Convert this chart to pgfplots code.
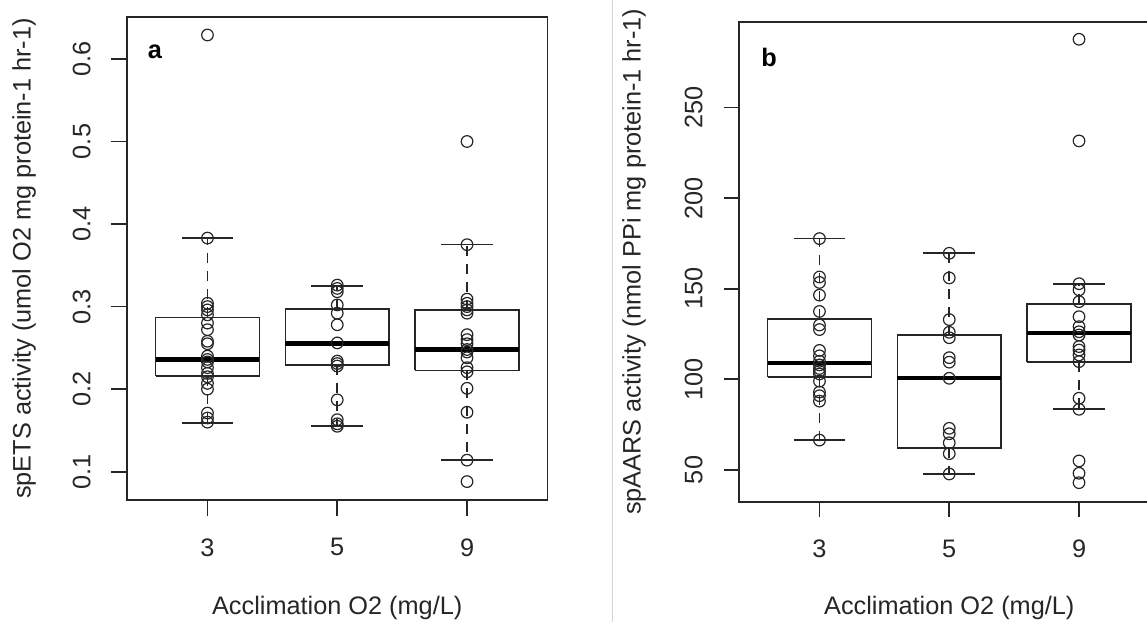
\documentclass[border=0pt]{standalone}
\usepackage{pgfplots}
\pgfplotsset{compat=1.18}
\usepackage{fontspec}
\setmainfont{Liberation Sans}
\newcommand{\lab}{\fontsize{12.65pt}{15pt}\selectfont}
\definecolor{ink}{gray}{0.15}
\pgfplotsset{
  bx/.style={draw=ink, line width=0.8pt, solid, mark=none, line join=miter, forget plot},
  md/.style={draw=black, line width=2.1pt, mark=none, line cap=butt, forget plot},
  wk/.style={draw=ink, line width=0.8pt, dash pattern=on 5pt off 4pt, mark=none, forget plot},
  cp/.style={draw=ink, line width=0.8pt, solid, mark=none, forget plot},
  rpts/.style={only marks, mark=o, mark size=2.9pt,
    mark options={line width=0.6pt, draw=ink}},
  rax/.style={
    scale only axis, width=210.25pt,
    xmin=0.38, xmax=3.62,
    xtick={1,2,3}, xticklabels={3,5,9},
    tick align=outside, xtick pos=lower, ytick pos=left,
    major tick length=7.75pt,
    axis line style={line width=0.9pt, draw=ink},
    every tick/.style={line width=0.9pt, draw=ink},
    tick label style={font=\lab, text=ink},
    label style={font=\lab, text=ink},
    yticklabel style={rotate=90, anchor=south, inner sep=0pt},
    xticklabel style={anchor=north, inner sep=0pt},
    xticklabel shift=11.3pt, yticklabel shift=10.2pt,
    /pgf/number format/assume math mode=true,
    minor tick num=0,
  },
}
\begin{document}
\begin{tikzpicture}
\useasboundingbox (0,0) rectangle (573.5pt,311pt);
\draw[gray!35, line width=0.6pt] (306.25pt,0pt) -- (306.25pt,311pt);
% ---------------- panel a
\begin{axis}[rax, at={(63.5pt,61pt)}, anchor=south west, height=241.5pt,
  ymin=0.0657, ymax=0.6508,
  ytick={0.1,0.2,0.3,0.4,0.5,0.6},
  yticklabel style={/pgf/number format/fixed, /pgf/number format/precision=1, /pgf/number format/fixed zerofill},
  xlabel={Acclimation O2 (mg/L)},
  ylabel={spETS activity (umol O2 mg protein-1 hr-1)},
  xlabel style={at={(axis description cs:0.5,-0.2236)}, anchor=center},
  ylabel style={at={(axis description cs:-0.245,0.5)}, anchor=center, rotate=0},
]
% group 3: lw 0.159, lq 0.216, med 0.236, uq 0.287, uw 0.383
\addplot[bx] coordinates {(0.6,0.216) (1.4,0.216) (1.4,0.287) (0.6,0.287) (0.6,0.216)};
\addplot[md] coordinates {(0.6,0.236) (1.4,0.236)};
\addplot[wk] coordinates {(1,0.287) (1,0.383)};
\addplot[wk] coordinates {(1,0.216) (1,0.159)};
\addplot[cp] coordinates {(0.8,0.383) (1.2,0.383)};
\addplot[cp] coordinates {(0.8,0.159) (1.2,0.159)};
% group 5: lw 0.155, lq 0.2295, med 0.2553, uq 0.297, uw 0.325
\addplot[bx] coordinates {(1.6,0.2295) (2.4,0.2295) (2.4,0.297) (1.6,0.297) (1.6,0.2295)};
\addplot[md] coordinates {(1.6,0.2553) (2.4,0.2553)};
\addplot[wk] coordinates {(2,0.297) (2,0.325)};
\addplot[wk] coordinates {(2,0.2295) (2,0.155)};
\addplot[cp] coordinates {(1.8,0.325) (2.2,0.325)};
\addplot[cp] coordinates {(1.8,0.155) (2.2,0.155)};
% group 9: lw 0.114, lq 0.2227, med 0.248, uq 0.2958, uw 0.375
\addplot[bx] coordinates {(2.6,0.2227) (3.4,0.2227) (3.4,0.2958) (2.6,0.2958) (2.6,0.2227)};
\addplot[md] coordinates {(2.6,0.248) (3.4,0.248)};
\addplot[wk] coordinates {(3,0.2958) (3,0.375)};
\addplot[wk] coordinates {(3,0.2227) (3,0.114)};
\addplot[cp] coordinates {(2.8,0.375) (3.2,0.375)};
\addplot[cp] coordinates {(2.8,0.114) (3.2,0.114)};
\addplot[rpts] coordinates {
 (1,0.629) (1,0.383) (1,0.304) (1,0.300) (1,0.296) (1,0.290) (1,0.280) (1,0.272)
 (1,0.258) (1,0.255) (1,0.240) (1,0.236) (1,0.233) (1,0.226) (1,0.219) (1,0.215)
 (1,0.207) (1,0.200) (1,0.171) (1,0.165) (1,0.160)
 (2,0.326) (2,0.322) (2,0.318) (2,0.302) (2,0.292) (2,0.278) (2,0.256) (2,0.234)
 (2,0.231) (2,0.228) (2,0.187) (2,0.163) (2,0.158) (2,0.155)
 (3,0.500) (3,0.375) (3,0.309) (3,0.304) (3,0.300) (3,0.296) (3,0.292) (3,0.266)
 (3,0.260) (3,0.255) (3,0.248) (3,0.245) (3,0.238) (3,0.226) (3,0.221) (3,0.201)
 (3,0.172) (3,0.114) (3,0.088)
};
\node[font=\lab\bfseries, text=black] at (axis description cs:0.0666,0.9275) {a};
\end{axis}
% ---------------- panel b
\begin{axis}[rax, at={(369.5pt,60.15pt)}, anchor=south west, height=240pt,
  ymin=32.5, ymax=297.4,
  ytick={50,100,150,200,250},
  xlabel={Acclimation O2 (mg/L)},
  ylabel={spAARS activity (nmol PPi mg protein-1 hr-1)},
  xlabel style={at={(axis description cs:0.5,-0.222)}, anchor=center},
  ylabel style={at={(axis description cs:-0.2497,0.5)}, anchor=center, rotate=0},
]
% group 3: lw 66.4, lq 101.2, med 109.2, uq 133.4, uw 177.7
\addplot[bx] coordinates {(0.6,101.2) (1.4,101.2) (1.4,133.4) (0.6,133.4) (0.6,101.2)};
\addplot[md] coordinates {(0.6,109.2) (1.4,109.2)};
\addplot[wk] coordinates {(1,133.4) (1,177.7)};
\addplot[wk] coordinates {(1,101.2) (1,66.4)};
\addplot[cp] coordinates {(0.8,177.7) (1.2,177.7)};
\addplot[cp] coordinates {(0.8,66.4) (1.2,66.4)};
% group 5: lw 47.8, lq 62.0, med 100.6, uq 124.5, uw 169.6
\addplot[bx] coordinates {(1.6,62.0) (2.4,62.0) (2.4,124.5) (1.6,124.5) (1.6,62.0)};
\addplot[md] coordinates {(1.6,100.6) (2.4,100.6)};
\addplot[wk] coordinates {(2,124.5) (2,169.6)};
\addplot[wk] coordinates {(2,62.0) (2,47.8)};
\addplot[cp] coordinates {(1.8,169.6) (2.2,169.6)};
\addplot[cp] coordinates {(1.8,47.8) (2.2,47.8)};
% group 9: lw 83.5, lq 109.5, med 125.5, uq 141.6, uw 152.8
\addplot[bx] coordinates {(2.6,109.5) (3.4,109.5) (3.4,141.6) (2.6,141.6) (2.6,109.5)};
\addplot[md] coordinates {(2.6,125.5) (3.4,125.5)};
\addplot[wk] coordinates {(3,141.6) (3,152.8)};
\addplot[wk] coordinates {(3,109.5) (3,83.5)};
\addplot[cp] coordinates {(2.8,152.8) (3.2,152.8)};
\addplot[cp] coordinates {(2.8,83.5) (3.2,83.5)};
\addplot[rpts] coordinates {
 (1,177.7) (1,156.5) (1,153.5) (1,146.5) (1,137.5) (1,130) (1,127.5) (1,116)
 (1,113) (1,110) (1,108) (1,106) (1,104.5) (1,103) (1,99) (1,93) (1,91) (1,88) (1,66.5)
 (2,169.6) (2,156) (2,133) (2,126) (2,123) (2,112) (2,109.5) (2,100.6) (2,73)
 (2,70) (2,65) (2,59) (2,47.8)
 (3,287.7) (3,231.6) (3,152.8) (3,149.4) (3,142.9) (3,134.6) (3,129.1) (3,126.3)
 (3,124.5) (3,118.1) (3,116.2) (3,113.5) (3,109.8) (3,89.6) (3,83.5) (3,55)
 (3,48.2) (3,43)
};
\node[font=\lab\bfseries, text=black] at (axis description cs:0.0713,0.9265) {b};
\end{axis}
\end{tikzpicture}
\end{document}
